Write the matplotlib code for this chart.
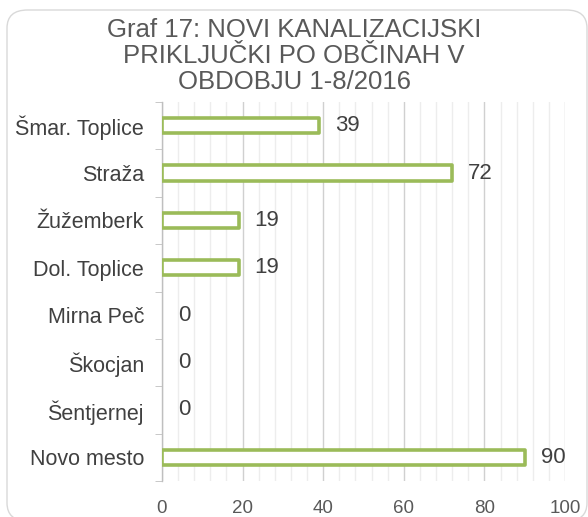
import matplotlib
matplotlib.use("Agg")
import matplotlib.pyplot as plt
from matplotlib.patches import FancyBboxPatch
import numpy as np

categories = ["Šmar. Toplice", "Straža", "Žužemberk", "Dol. Toplice",
              "Mirna Peč", "Škocjan", "Šentjernej", "Novo mesto"]
values = [39, 72, 19, 19, 0, 0, 0, 90]
x_ticks = [0, 20, 40, 60, 80, 100]
title = "Graf 17: NOVI KANALIZACIJSKI\nPRIKLJUČKI PO OBČINAH V\nOBDOBJU 1-8/2016"

plt.rcParams['font.family'] = ['Liberation Sans', 'DejaVu Sans']

fig = plt.figure(figsize=(5.88, 5.17), dpi=100)
ax = fig.add_axes([162/588, 1-481/517, (565-162)/588, (481-102)/517])

y = np.arange(len(categories))
edge_colors = ['#9BBB59' if v > 0 else 'none' for v in values]
ax.barh(y, values, height=0.32, color='white', edgecolor=edge_colors,
        linewidth=2.6, joinstyle='round', zorder=3)
for yi, v in zip(y, values):
    ax.text(v + 4.0, yi, str(v), va='center', ha='left', fontsize=16,
            color='#404040', zorder=4)

ax.set_xlim(0, 100)
ax.set_ylim(len(categories) - 0.5, -0.5)
ax.set_xticks(x_ticks)
ax.set_xticks(np.arange(0, 101, 4), minor=True)
ax.grid(axis='x', which='major', color='#D0D0D0', linewidth=1.0, zorder=0)
ax.grid(axis='x', which='minor', color='#EDEDED', linewidth=1.0, zorder=0)
ax.set_yticks(y)
ax.set_yticklabels(categories)
ax.set_yticks(np.arange(-0.5, len(categories)), minor=True)
ax.tick_params(axis='y', which='major', length=0, pad=13, labelsize=15.5, labelcolor='#404040')
ax.tick_params(axis='y', which='minor', length=5, color='#BFBFBF', direction='out')
ax.tick_params(axis='x', which='both', length=0, pad=14, labelsize=13.5, labelcolor='#595959')
for s in ['top', 'right', 'bottom']:
    ax.spines[s].set_visible(False)
ax.spines['left'].set_color('#BFBFBF')
ax.spines['left'].set_linewidth(1.0)

fig.text(0.5, 1-56/517, title, ha='center', va='center', fontsize=18.5,
         color='#595959', linespacing=1.13)

border = FancyBboxPatch((7/588, -4/517), 580/588, (517-10+4)/517,
                        boxstyle="round,pad=0,rounding_size=0.035",
                        transform=fig.transFigure, facecolor='none',
                        edgecolor='#D9D9D9', linewidth=1.0)
fig.patches.append(border)

fig.savefig("out.png", dpi=100)
